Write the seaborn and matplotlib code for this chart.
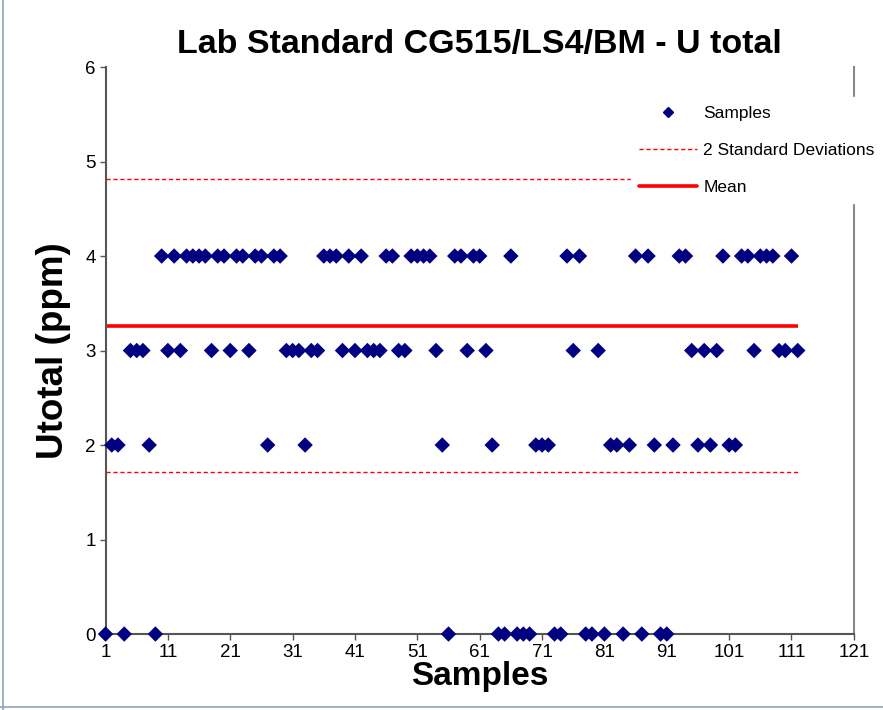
import numpy as np
import pandas as pd
import matplotlib.pyplot as plt
import seaborn as sns
from matplotlib.lines import Line2D

# Sample number and U total (ppm)
samples = list(range(1, 113))
u_total = [0, 2, 2, 0, 3, 3, 3, 2, 0, 4,
           3, 4, 3, 4, 4, 4, 4, 3, 4, 4,
           3, 4, 4, 3, 4, 4, 2, 4, 4, 3,
           3, 3, 2, 3, 3, 4, 4, 4, 3, 4,
           3, 4, 3, 3, 3, 4, 4, 3, 3, 4,
           4, 4, 4, 3, 2, 0, 4, 4, 3, 4,
           4, 3, 2, 0, 0, 4, 0, 0, 0, 2,
           2, 2, 0, 0, 4, 3, 4, 0, 0, 3,
           0, 2, 2, 0, 2, 4, 0, 4, 2, 0,
           0, 2, 4, 4, 3, 2, 3, 2, 3, 4,
           2, 2, 4, 4, 3, 4, 4, 4, 3, 3,
           4, 3]
mean_value = 3.26
two_sd = 1.55
x_ticks = [1, 11, 21, 31, 41, 51, 61, 71, 81, 91, 101, 111, 121]

df = pd.DataFrame({'Sample': samples, 'Utotal': u_total})

sns.set_style('white')
plt.rcParams['font.family'] = ['Liberation Sans', 'DejaVu Sans']
plt.rcParams['text.color'] = 'black'
plt.rcParams['axes.labelcolor'] = 'black'

fig = plt.figure(figsize=(8.83, 7.10), dpi=100)
ax = fig.add_axes([0.1195, 0.107, 0.8475, 0.7986])

x0, x1 = df['Sample'].min(), df['Sample'].max()
ax.hlines([mean_value + two_sd, mean_value - two_sd], x0, x1,
          colors='red', linestyles=(0, (3, 2)), linewidth=1.0, zorder=2)
ax.hlines(mean_value, x0, x1, colors='red', linewidth=2.6, zorder=2)

sns.scatterplot(data=df, x='Sample', y='Utotal', marker='D', s=62,
                color='#000080', edgecolor='none', ax=ax, zorder=3,
                clip_on=False, legend=False)

ax.set_xlim(1, 121)
ax.set_ylim(0, 6)
ax.set_xticks(x_ticks)
ax.set_yticks(range(0, 7))
ax.tick_params(axis='both', direction='out', length=4, width=1,
               color='#555555', labelcolor='black', labelsize=13.5,
               bottom=True, left=True, pad=3)
for side in ['left', 'bottom']:
    ax.spines[side].set_color('#555555')
    ax.spines[side].set_linewidth(1.5)
ax.spines['right'].set_color('#888888')
ax.spines['right'].set_linewidth(1.5)
ax.spines['top'].set_visible(False)

ax.set_title('Lab Standard CG515/LS4/BM - U total', fontsize=24.5,
             fontweight='bold', pad=10)
ax.set_xlabel('Samples', fontsize=24, fontweight='bold', labelpad=0)
ax.set_ylabel('Utotal (ppm)', fontsize=26.5, fontweight='bold', labelpad=10)

handles = [
    Line2D([], [], marker='D', color='#000080', linestyle='none', markersize=5),
    Line2D([], [], color='red', linestyle=(0, (3, 2)), linewidth=1.0),
    Line2D([], [], color='red', linewidth=2.6),
]
labels = ['Samples', '2 Standard Deviations', 'Mean']
leg = ax.legend(handles, labels, loc='upper left', bbox_to_anchor=(0.690, 0.962),
                frameon=True, fontsize=12.5, labelspacing=1.25, handlelength=3.3,
                handletextpad=0.4, borderpad=0.5, fancybox=False)
leg.get_frame().set_edgecolor('white')
leg.get_frame().set_facecolor('white')
leg.get_frame().set_alpha(1)
leg.set_zorder(5)

# outer chart-area border (left and bottom edges visible)
fig.add_artist(Line2D([0.003, 0.003], [0.0, 1.0], color='#8fa3bf', linewidth=1.2))
fig.add_artist(Line2D([0.0, 1.0], [0.004, 0.004], color='#8fa3bf', linewidth=1.2))

plt.savefig('out.png', dpi=100)
